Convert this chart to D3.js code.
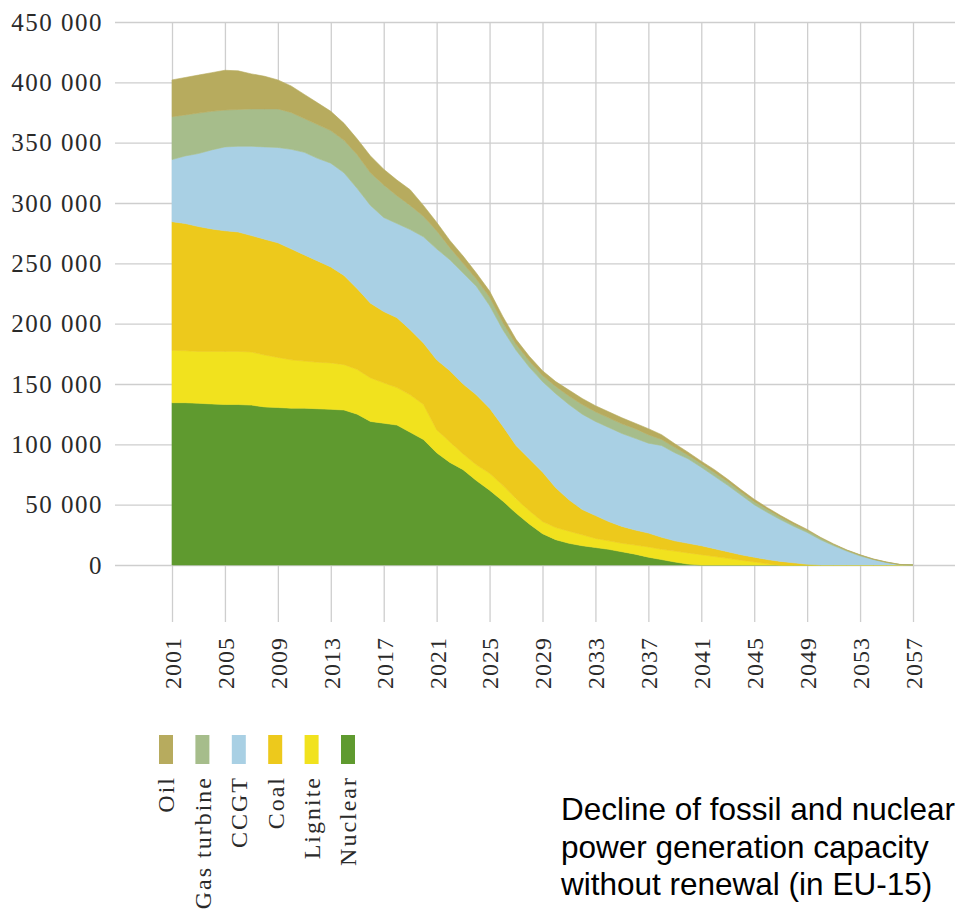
<!DOCTYPE html>
<html>
<head>
<meta charset="utf-8">
<script src="https://cdn.jsdelivr.net/npm/d3@7"></script>
<style>
  html, body { margin: 0; padding: 0; background: #fff; }
  svg { display: block; }
</style>
</head>
<body>
<svg id="chart" width="955" height="913"></svg>
<script>
// ---- data (MW) ----
const years = d3.range(2001, 2058);
const seriesNames = ["Nuclear", "Lignite", "Coal", "CCGT", "Gas turbine", "Oil"];
const legendNames = ["Oil", "Gas turbine", "CCGT", "Coal", "Lignite", "Nuclear"];
const xTickLabels = ["2001","2005","2009","2013","2017","2021","2025","2029","2033","2037","2041","2045","2049","2053","2057"];
const yTickValues = [0, 50000, 100000, 150000, 200000, 250000, 300000, 350000, 400000, 450000];
const captionLines = ["Decline of fossil and nuclear", "power generation capacity", "without renewal (in EU-15)"];

const nuclear = [134500,134500,134000,133500,133000,133000,132500,131000,130500,130000,130000,129500,129000,128500,125000,119000,117500,116000,110000,104000,93000,85000,79000,70000,62000,53000,43000,34000,26000,21000,18000,16000,14500,13000,11000,9000,6500,4500,2500,800,0,0,0,0,0,0,0,0,0,0,0,0,0,0,0,0,0];
const lignite = [43500,43000,43000,43500,44000,44000,44000,43000,41500,40000,39000,38500,38500,37500,37000,36000,33500,31000,31000,29000,19000,17000,13000,13000,14000,13000,12000,11000,10000,10000,10000,9000,7500,7000,7000,7500,8500,8500,9000,9200,8500,7000,5500,4000,2500,1000,0,0,0,0,0,0,0,0,0,0,0];
const coal = [106500,105500,103500,101500,100000,99000,96500,96000,95000,92000,88000,84000,79500,74000,67000,62000,59000,58000,54000,51000,58000,59000,58000,58000,54000,49000,44000,43000,41000,33000,26000,21000,19000,16000,14000,12500,11500,10000,8500,8000,7500,6500,5500,4500,4000,3500,3000,1800,600,0,0,0,0,0,0,0,0];
const ccgt = [51500,56000,60500,65500,69500,71000,74000,76500,79000,82500,85000,85000,86000,85000,83000,81000,78000,78000,83000,88000,92000,92000,92000,90000,85000,80000,79000,76000,75000,78000,79000,79000,78000,78000,77000,76000,74500,76000,73000,70000,65000,60000,55000,49500,43500,39000,34500,30200,26400,21000,16000,11500,7500,4500,2000,300,0];
const gasTurbine = [35500,34000,33500,32000,30500,30500,31000,31500,32000,30500,28000,28000,27000,27000,28000,27000,27000,23000,20000,17000,15000,10000,8000,6000,7000,6000,5000,5000,5000,6000,7000,8000,8000,8000,8000,8000,7000,5000,4500,3000,3000,3000,3000,2500,2500,2500,2000,1500,1500,1500,1000,700,700,300,300,100,0];
const oil = [30500,31000,31500,32000,33000,32000,29000,27000,24000,22000,20000,18000,16000,14000,13000,14000,13000,13000,13000,9000,7000,6000,6000,5000,5000,5000,4000,4000,4000,4000,5000,5000,5000,5000,5000,4500,5000,4000,3000,2500,2000,2500,2000,2000,2000,1500,1500,1500,1000,500,500,300,300,200,200,100,0];

const colors = {
  "Oil": "#b7ab5e",
  "Gas turbine": "#a6bd8b",
  "CCGT": "#a9d0e4",
  "Coal": "#edc91c",
  "Lignite": "#f1e21e",
  "Nuclear": "#5f9a2f"
};

// build table for the stack
const table = years.map((yr, i) => ({
  year: yr,
  "Nuclear": nuclear[i],
  "Lignite": lignite[i],
  "Coal": coal[i],
  "CCGT": ccgt[i],
  "Gas turbine": gasTurbine[i],
  "Oil": oil[i]
}));

const svg = d3.select("#chart");

const x = d3.scaleLinear().domain([2001, 2057]).range([172, 913]);
const y = d3.scaleLinear().domain([0, 450000]).range([565, 22]);

const serif = "'Liberation Serif', 'Times New Roman', serif";

// ---- y axis with horizontal grid ----
const fmt = v => d3.format(",")(v).replace(/,/g, " ");
const yAxis = svg.append("g")
  .attr("transform", "translate(115,0)")
  .call(d3.axisLeft(y).tickValues(yTickValues).tickSize(-840).tickPadding(12).tickFormat(fmt));
yAxis.select(".domain").remove();
yAxis.selectAll(".tick line").attr("stroke", "#cecece").attr("stroke-width", 1.3);
yAxis.selectAll(".tick text")
  .attr("fill", "#2a2a2a")
  .style("font-family", serif)
  .style("font-size", "25px")
  .style("letter-spacing", "1.5px");

// ---- x axis with vertical grid ----
const xAxis = svg.append("g")
  .attr("transform", "translate(0,22)")
  .call(d3.axisBottom(x).tickValues(xTickLabels.map(Number)).tickSize(600).tickFormat(d => String(d)));
xAxis.select(".domain").remove();
xAxis.selectAll(".tick line").attr("stroke", "#cecece").attr("stroke-width", 1.3);
xAxis.selectAll(".tick text")
  .attr("fill", "#2a2a2a")
  .attr("transform", "rotate(-90)")
  .attr("x", -615)
  .attr("y", 0)
  .attr("dy", "0.35em")
  .style("text-anchor", "end")
  .style("font-family", serif)
  .style("font-size", "24px")
  .style("letter-spacing", "1px");

// ---- stacked areas ----
const stack = d3.stack().keys(seriesNames);
const stacked = stack(table);
const area = d3.area()
  .x(d => x(d.data.year))
  .y0(d => y(d[0]))
  .y1(d => y(d[1]))
  .curve(d3.curveLinear);

svg.append("g").selectAll("path")
  .data(stacked)
  .join("path")
  .attr("d", area)
  .attr("fill", d => colors[d.key])
  .attr("stroke", d => colors[d.key])
  .attr("stroke-width", 0.6);

// ---- legend ----
const legendX = d3.scaleLinear().domain([0, 5]).range([159, 341]);
const leg = svg.append("g");
leg.selectAll("rect")
  .data(legendNames)
  .join("rect")
  .attr("x", (d, i) => legendX(i))
  .attr("y", 735)
  .attr("width", 14)
  .attr("height", 29)
  .attr("fill", d => colors[d]);
leg.selectAll("text")
  .data(legendNames)
  .join("text")
  .attr("transform", (d, i) => `translate(${legendX(i) + 7},776) rotate(-90)`)
  .attr("dy", "0.35em")
  .attr("text-anchor", "end")
  .attr("fill", "#2a2a2a")
  .style("font-family", serif)
  .style("font-size", "24px")
  .style("letter-spacing", "2px")
  .text(d => d);

// ---- caption ----
svg.append("g").selectAll("text")
  .data(captionLines)
  .join("text")
  .attr("x", 561)
  .attr("y", (d, i) => 820 + i * 37.5)
  .attr("fill", "#000")
  .style("font-family", "'Liberation Sans', Arial, sans-serif")
  .style("font-size", "31.5px")
  .text(d => d);
</script>
</body>
</html>
